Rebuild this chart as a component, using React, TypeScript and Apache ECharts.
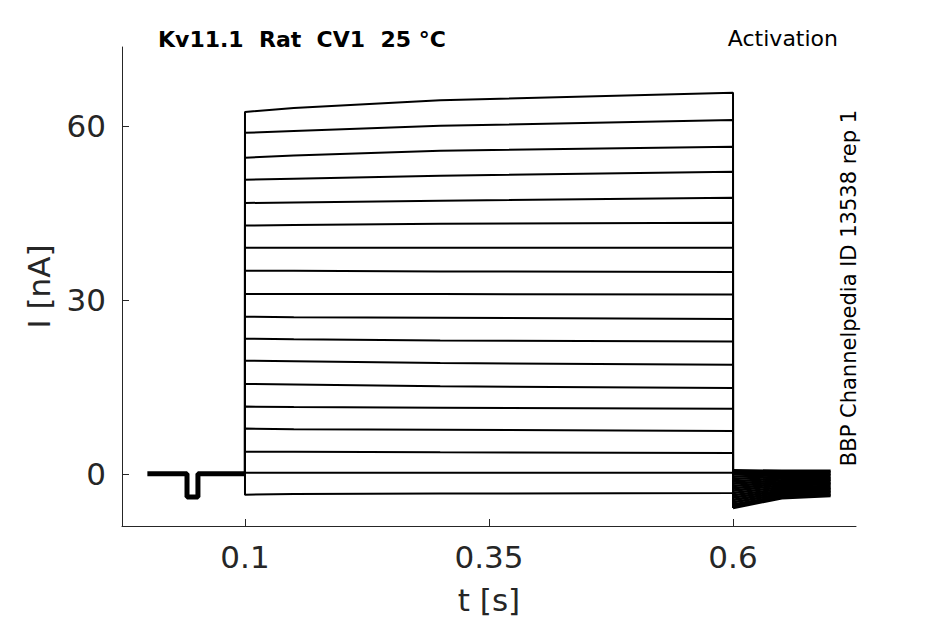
import React, { useEffect, useRef } from "react";
import * as echarts from "echarts";

// ---- data ----
// holding period (before the step): times [s] and current [nA]
const holdTimes = [0.0, 0.0406, 0.0406, 0.0518, 0.0518, 0.1];
const holdValues = [0.0, 0.0, -4.0, -4.0, 0.0, 0.0];

// test step: current at selected times for each of 18 sweeps (top to bottom)
const stepTimes = [0.1, 0.15, 0.3, 0.6];
const stepStart = [62.4, 58.8, 54.5, 50.7, 46.7, 42.8, 39.0, 35.0, 31.0, 27.1, 23.3, 19.5, 15.5, 11.6, 7.8, 3.8, 0.2, -3.6];
const stepEarly = [63.1, 59.1, 54.9, 50.9, 46.8, 42.9, 39.0, 35.0, 31.0, 27.0, 23.2, 19.4, 15.4, 11.5, 7.7, 3.8, 0.2, -3.5];
const stepMid = [64.4, 60.0, 55.7, 51.4, 47.1, 43.1, 39.0, 34.9, 31.0, 26.9, 23.0, 19.1, 15.1, 11.4, 7.6, 3.7, 0.2, -3.4];
const stepEnd = [65.7, 61.0, 56.4, 52.1, 47.6, 43.3, 39.0, 34.8, 30.9, 26.7, 22.8, 18.8, 14.8, 11.2, 7.4, 3.6, 0.2, -3.3];

// tail currents after the step
const tailTimes = [0.6, 0.65, 0.7];
const tailStart = [-5.9, -5.6, -5.3, -4.9, -4.5, -4.1, -3.7, -3.3, -2.9, -2.5, -2.1, -1.7, -1.3, -0.9, -0.5, -0.1, 0.3, 0.6];
const tailMid = [-4.2, -4.0, -3.8, -3.5, -3.2, -2.9, -2.6, -2.3, -2.0, -1.7, -1.4, -1.1, -0.8, -0.5, -0.2, 0.0, 0.3, 0.5];
const tailEnd = [-3.8, -3.6, -3.4, -3.1, -2.9, -2.6, -2.4, -2.1, -1.8, -1.6, -1.3, -1.0, -0.8, -0.5, -0.2, 0.0, 0.3, 0.5];

const xTicks = [0.1, 0.35, 0.6];
const yTicks = [0, 30, 60];

const titleText = "Kv11.1  Rat  CV1  25 °C";
const protocolText = "Activation";
const sideText = "BBP Channelpedia ID 13538 rep 1";

const FONT = "DejaVu Sans";
const AXIS_COLOR = "#262626";

export default function App() {
  const ref = useRef<HTMLDivElement>(null);

  useEffect(() => {
    if (!ref.current) return;
    const chart = echarts.init(ref.current, undefined, { renderer: "svg" });

    const series: any[] = [];
    // holding segment (many overlapping sweeps -> thick)
    series.push({
      type: "line",
      data: holdTimes.map((t, i) => [t, holdValues[i]]),
      showSymbol: false,
      lineStyle: { color: "#000", width: 5 },
      silent: true,
    });
    stepStart.forEach((_, k) => {
      const vals = [stepStart[k], stepEarly[k], stepMid[k], stepEnd[k]];
      const data: number[][] = [[holdTimes[holdTimes.length - 1], 0]];
      stepTimes.forEach((t, j) => data.push([t, vals[j]]));
      data.push([tailTimes[0], tailStart[k]]);
      series.push({
        type: "line",
        data,
        showSymbol: false,
        lineStyle: { color: "#000", width: 2 },
        silent: true,
      });
      const tv = [tailStart[k], tailMid[k], tailEnd[k]];
      series.push({
        type: "line",
        data: tailTimes.map((t, j) => [t, tv[j]]),
        showSymbol: false,
        lineStyle: { color: "#000", width: 2.6 },
        silent: true,
      });
    });

    chart.setOption({
      animation: false,
      backgroundColor: "#fff",
      grid: { left: 122, right: 89, top: 47, bottom: 98 },
      xAxis: {
        type: "value",
        min: -0.026,
        max: 0.726,
        name: "t [s]",
        nameLocation: "middle",
        nameGap: 58,
        nameTextStyle: { fontFamily: FONT, fontSize: 31, color: AXIS_COLOR },
        axisLine: { show: true, onZero: false, lineStyle: { color: AXIS_COLOR, width: 1 } },
        axisTick: { show: true, inside: true, length: 7, customValues: xTicks, lineStyle: { color: AXIS_COLOR } },
        axisLabel: {
          customValues: xTicks,
          formatter: (v: number) => String(v),
          fontFamily: FONT,
          fontSize: 31,
          color: AXIS_COLOR,
          margin: 15,
        },
        splitLine: { show: false },
      },
      yAxis: {
        type: "value",
        min: -9,
        max: 73.6,
        name: "I [nA]",
        nameLocation: "middle",
        nameGap: 68,
        nameRotate: 90,
        nameTextStyle: { fontFamily: FONT, fontSize: 31, color: AXIS_COLOR },
        axisLine: { show: true, onZero: false, lineStyle: { color: AXIS_COLOR, width: 1 } },
        axisTick: { show: true, inside: true, length: 7, customValues: yTicks, lineStyle: { color: AXIS_COLOR } },
        axisLabel: {
          customValues: yTicks,
          fontFamily: FONT,
          fontSize: 31,
          color: AXIS_COLOR,
          margin: 16,
        },
        splitLine: { show: false },
      },
      graphic: [
        {
          type: "text",
          x: 158,
          y: 39.5,
          style: {
            text: titleText,
            fontFamily: FONT,
            fontWeight: "bold",
            fontSize: 22,
            fill: "#000",
            textAlign: "left",
            textVerticalAlign: "middle",
          },
        },
        {
          type: "text",
          x: 838,
          y: 38,
          style: {
            text: protocolText,
            fontFamily: FONT,
            fontSize: 22,
            fill: "#000",
            textAlign: "right",
            textVerticalAlign: "middle",
          },
        },
        {
          type: "text",
          x: 848.5,
          y: 288,
          rotation: Math.PI / 2,
          style: {
            text: sideText,
            fontFamily: FONT,
            fontSize: 21,
            fill: "#000",
            textAlign: "center",
            textVerticalAlign: "middle",
          },
        },
      ],
      series,
    });

    return () => chart.dispose();
  }, []);

  return (
    <div
      ref={ref}
      style={{ position: "fixed", left: 0, top: 0, width: 945, height: 624, background: "#fff" }}
    />
  );
}
